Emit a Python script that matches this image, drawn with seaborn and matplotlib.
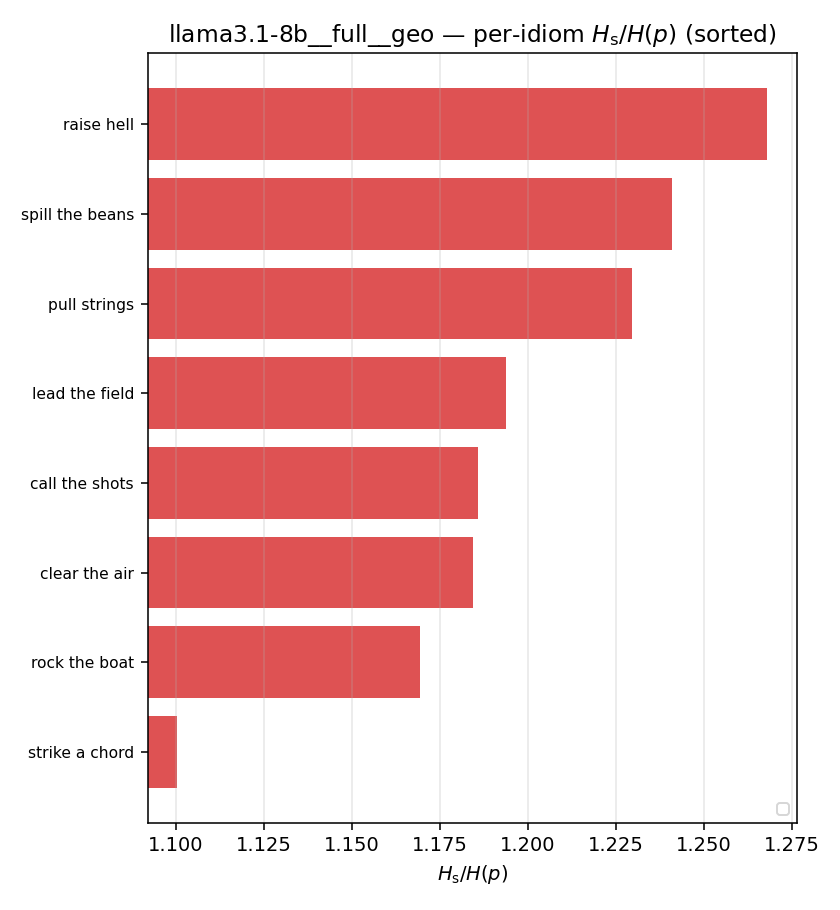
import matplotlib
matplotlib.use("Agg")
import matplotlib.pyplot as plt
import seaborn as sns
import pandas as pd

# per-idiom ratio, already sorted descending
idioms = ["raise hell", "spill the beans", "pull strings", "lead the field",
          "call the shots", "clear the air", "rock the boat", "strike a chord"]
ratios = [1.2681, 1.2409, 1.2297, 1.1938, 1.1858, 1.1844, 1.1693, 1.1003]

df = pd.DataFrame({"idiom": idioms, "ratio": ratios})

fig, ax = plt.subplots(figsize=(6, 6.5), dpi=140)
sns.barplot(data=df, x="ratio", y="idiom", orient="h", color="tab:red",
            alpha=0.8, saturation=1, width=0.8, ax=ax)

# zoom x-axis around the data range
lo, hi = min(ratios), max(ratios)
pad = 0.05 * (hi - lo)
ax.set_xlim(lo - pad, hi + pad)
ax.set_ylim(len(idioms) - 1 + 0.79, -0.79)

ax.grid(axis="x", alpha=0.3)
ax.tick_params(axis="y", labelsize=8)
ax.set_ylabel("")
ax.set_xlabel(r"$H_\mathrm{s}/H(p)$")
ax.set_title(r"llama3.1-8b__full__geo — per-idiom $H_\mathrm{s}/H(p)$ (sorted)")
ax.legend(handles=[], loc="lower right", fontsize=8)

fig.subplots_adjust(left=0.1758, right=0.9485, bottom=0.0959, top=0.9414)
fig.savefig("out.png", dpi=140)
